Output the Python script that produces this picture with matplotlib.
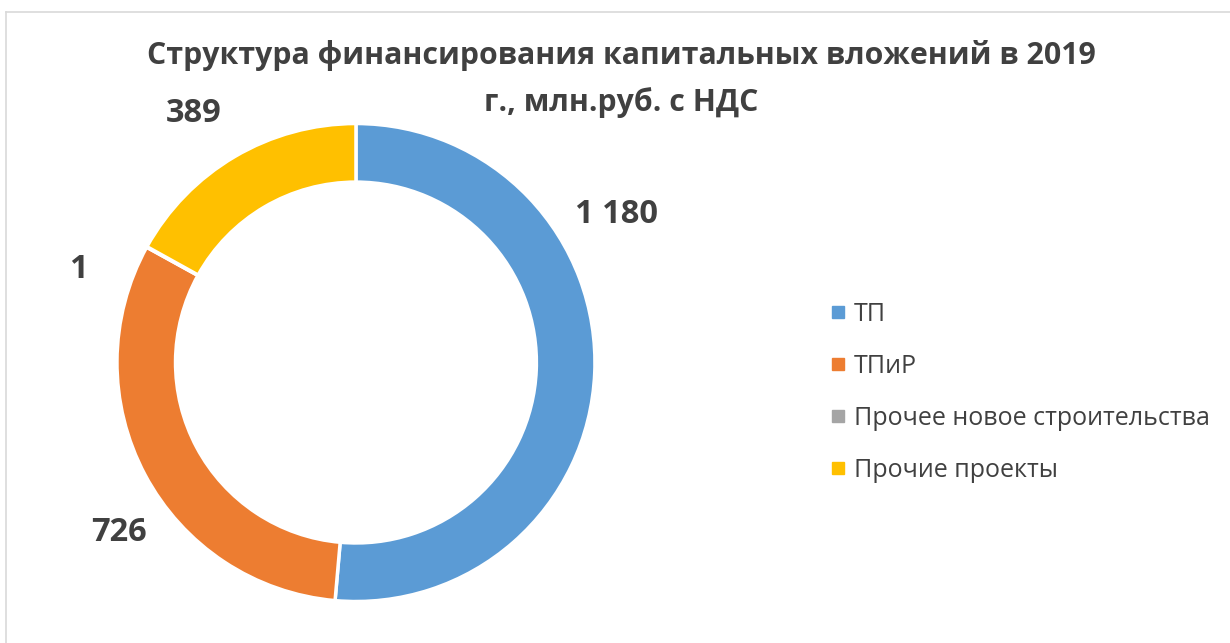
import matplotlib.pyplot as plt
from matplotlib.lines import Line2D

plt.rcParams['font.family'] = ['Open Sans', 'DejaVu Sans']

# Data
categories = ["ТП", "ТПиР", "Прочее новое строительства", "Прочие проекты"]
values = [1180, 726, 1, 389]
value_labels = ["1 180", "726", "1", "389"]
colors = ["#5B9BD5", "#ED7D31", "#A5A5A5", "#FFC000"]

# label placement (Excel "best fit"), in units of the outer radius
label_pos = [(1.09, 0.62), (-0.99, -0.71), (-1.16, 0.39), (-0.68, 1.04)]

fig = plt.figure(figsize=(12.3, 6.43), dpi=100)
ax = fig.add_axes([0.0951, 0.0645, 0.3886, 0.7434])

ax.pie(values, colors=colors, startangle=90, counterclock=False,
       radius=1.0, wedgeprops=dict(width=0.245, edgecolor="white", linewidth=2.5))
ax.set_xlim(-1, 1)
ax.set_ylim(-1, 1)
ax.set_aspect("equal")
ax.axis("off")

for (x, y), txt in zip(label_pos, value_labels):
    ax.text(x, y, txt, ha="center", va="center", fontsize=23.5,
            fontweight="bold", color="#404040", clip_on=False)

# Title
fig.text(0.505, 0.913, "Структура финансирования капитальных вложений в 2019",
         ha="center", va="center", fontsize=21.8, fontweight="bold", color="#404040")
fig.text(0.505, 0.840, "г., млн.руб. с НДС",
         ha="center", va="center", fontsize=21.8, fontweight="bold", color="#404040")

# Legend
handles = [Line2D([0], [0], marker="s", linestyle="none", markersize=8,
                  markerfacecolor=c, markeredgecolor=c) for c in colors]
fig.legend(handles, categories, loc="upper left", bbox_to_anchor=(0.655, 0.566),
           frameon=False, fontsize=18, labelcolor="#404040",
           handlelength=0.8, handletextpad=0.24, labelspacing=1.08)

# Chart frame (top and left edge only visible)
fig.add_artist(Line2D([5.5 / 1230, 5.5 / 1230], [0, 1 - 11.5 / 643],
                      transform=fig.transFigure, color="#d9d9d9", linewidth=1.2))
fig.add_artist(Line2D([5.5 / 1230, 1], [1 - 11.5 / 643, 1 - 11.5 / 643],
                      transform=fig.transFigure, color="#d9d9d9", linewidth=1.2))

plt.savefig("out.png", dpi=100, facecolor="white")
